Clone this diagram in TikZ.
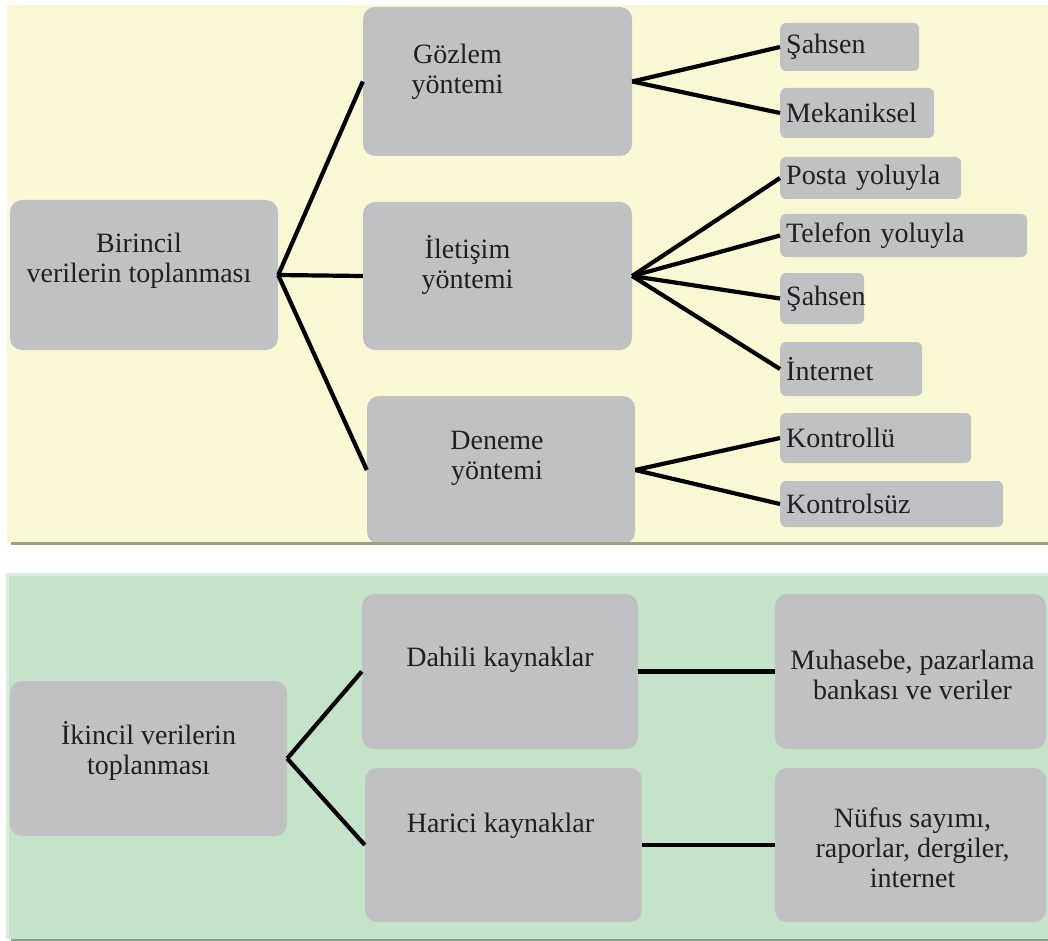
\documentclass[tikz,border=0pt]{standalone}
\usepackage{fontspec}
\setmainfont{Liberation Serif}
\definecolor{paneyellow}{HTML}{FAF7D5}
\definecolor{panegreen}{HTML}{C5E3C9}
\definecolor{panegreenlight}{HTML}{DCEEDF}
\definecolor{yellowrule}{HTML}{9C9E83}
\definecolor{greenrule}{HTML}{7EA78A}
\definecolor{boxgray}{HTML}{C0C1C2}
\definecolor{inkdark}{HTML}{231F20}
\newcommand\boxfont{\fontsize{28}{30}\selectfont}
\begin{document}
\begin{tikzpicture}[x=1pt,y=-1pt,
  bigbox/.style={fill=boxgray, rounded corners=12pt, inner sep=0pt},
  smallbox/.style={fill=boxgray, rounded corners=6pt, inner xsep=6pt, inner ysep=0pt,
    align=left, font=\boxfont, text=inkdark},
  boxtext/.style={align=center, font=\boxfont, text=inkdark, inner sep=0pt},
  link/.style={draw=black, line width=4.2pt}
]
\useasboundingbox (0,0) rectangle (1048,941);
\fill[white] (0,0) rectangle (1048,941);

% panels
\fill[paneyellow] (7,5) rectangle (1048,542);
\fill[panegreenlight] (6,573) rectangle (1048,939);
\fill[panegreen] (9,576) rectangle (1048,939);

% ---------- primary data ----------
\node[bigbox, minimum width=268pt, minimum height=150pt] (b1) at (144,275) {};
\node[bigbox, minimum width=269pt, minimum height=149pt] (g) at (497.5,81.5) {};
\node[bigbox, minimum width=269pt, minimum height=148pt] (i) at (497.5,276) {};
\node[bigbox, minimum width=268pt, minimum height=148pt] (d) at (501,470) {};

\node[boxtext] (tb1) at ([xshift=-5pt,yshift=14pt]b1.center) {Birincil\\verilerin toplanması};
\node[boxtext] (tg) at ([xshift=-40pt,yshift=10pt]g.center) {Gözlem\\yöntemi};
\node[boxtext] (ti) at ([xshift=-30pt,yshift=11pt]i.center) {İletişim\\yöntemi};
\node[boxtext] (td) at ([xshift=-4pt,yshift=12pt]d.center) {Deneme\\yöntemi};

\node[smallbox, anchor=west, text width=127pt, minimum height=48pt] (s1) at (780,47) {Şahsen};
\node[smallbox, anchor=west, text width=142pt, minimum height=50pt] (s2) at (780,113) {Mekaniksel};
\node[smallbox, anchor=west, text width=169pt, minimum height=42pt] (s3) at (780,178) {Posta yoluyla};
\node[smallbox, anchor=west, text width=235pt, minimum height=43pt] (s4) at (780,235.5) {Telefon yoluyla};
\node[smallbox, anchor=west, text width=72pt, minimum height=51pt] (s5) at (780,298.5) {Şahsen};
\node[smallbox, anchor=west, text width=130pt, minimum height=54pt] (s6) at (780,369) {İnternet};
\node[smallbox, anchor=west, text width=179pt, minimum height=50pt] (s7) at (780,438) {Kontrollü};
\node[smallbox, anchor=west, text width=211pt, minimum height=46pt] (s8) at (780,504) {Kontrolsüz};

\draw[link] (b1.east) -- (g.west);
\draw[link] (b1.east) -- (i.west);
\draw[link] (b1.east) -- (d.west);
\draw[link] (g.east) -- (s1.west);
\draw[link] (g.east) -- (s2.west);
\draw[link] (i.east) -- (s3.west);
\draw[link] (i.east) -- (s4.west);
\draw[link] (i.east) -- (s5.west);
\draw[link] (i.east) -- (s6.west);
\draw[link] (d.east) -- (s7.west);
\draw[link] (d.east) -- (s8.west);

% rule under the yellow panel
\fill[white] (0,542) rectangle (1048,550);
\fill[yellowrule] (11,542) rectangle (1048,544.5);

% ---------- secondary data ----------
\node[bigbox, minimum width=277pt, minimum height=155pt] (k) at (148.5,758.5) {};
\node[bigbox, minimum width=276pt, minimum height=155pt] (dh) at (500,671.5) {};
\node[bigbox, minimum width=277pt, minimum height=154pt] (hr) at (503.5,845) {};
\node[bigbox, minimum width=271pt, minimum height=155pt] (mu) at (910.5,671.5) {};
\node[bigbox, minimum width=271pt, minimum height=154pt] (nf) at (910.5,845) {};

\node[boxtext] (tk) at ([yshift=7.5pt]k.center) {İkincil verilerin\\toplanması};
\node[boxtext] (tdh) at ([yshift=11.5pt]dh.center) {Dahili kaynaklar};
\node[boxtext] (thr) at ([xshift=-3pt,yshift=19pt]hr.center) {Harici kaynaklar};
\node[boxtext] (tmu) at ([xshift=2pt,yshift=-3pt]mu.center) {Muhasebe, pazarlama\\bankası ve veriler};
\node[boxtext] (tnf) at ([xshift=2pt,yshift=-3pt]nf.center) {Nüfus sayımı,\\raporlar, dergiler,\\internet};

\draw[link] (k.east) -- (dh.west);
\draw[link] (k.east) -- (hr.west);
\draw[link] (dh.east) -- (mu.west);
\draw[link] (hr.east) -- (nf.west);

% rule under the green panel
\fill[greenrule] (11,939) rectangle (1048,941);
\end{tikzpicture}
\end{document}
